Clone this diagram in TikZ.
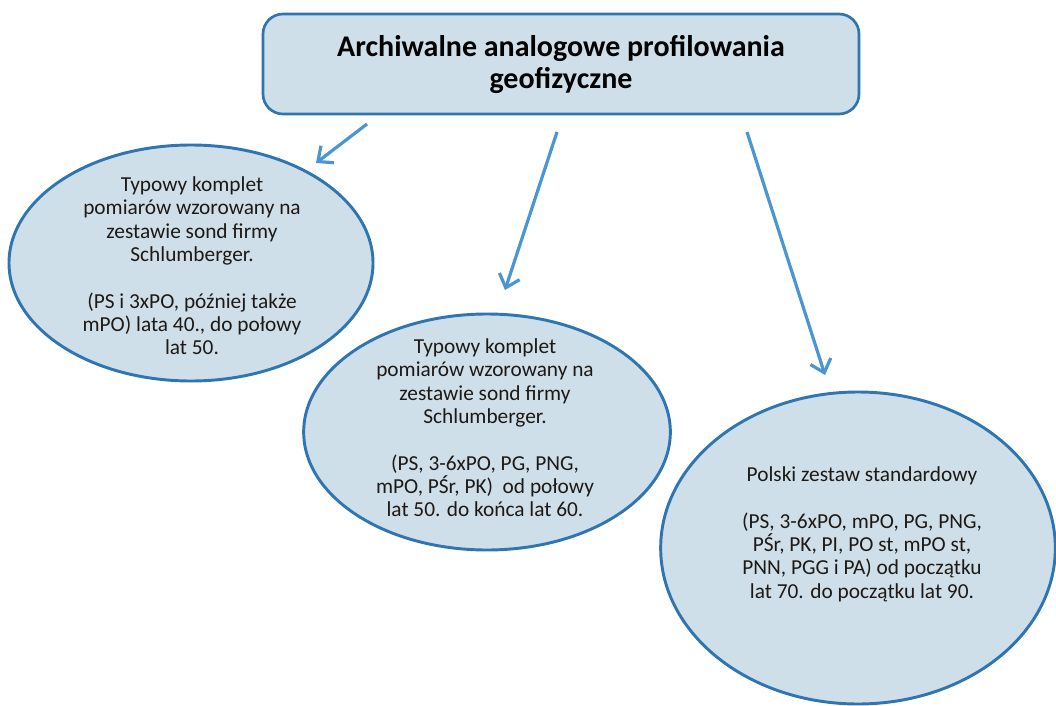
\documentclass[tikz,border=0pt]{standalone}
\usepackage{fontspec}
\setmainfont{Carlito}
\usetikzlibrary{shapes.geometric,arrows.meta}

\definecolor{bubblefill}{RGB}{207,223,234}
\definecolor{bubbleline}{RGB}{46,117,178}
\definecolor{arrowblue}{RGB}{74,150,210}
\definecolor{textdark}{RGB}{30,25,20}

\tikzset{
  titlebox/.style={rectangle, rounded corners=15pt, draw=bubbleline, fill=bubblefill,
    line width=2pt, minimum width=447pt, minimum height=75pt, align=center,
    font=\fontsize{22.5}{24}\selectfont\bfseries},
  bubble/.style={ellipse, draw=bubbleline, fill=bubblefill, line width=2.2pt, inner sep=0pt},
  bubbletext/.style={align=center, text=textdark, font=\fontsize{16}{17.5}\selectfont},
  link/.style={draw=arrowblue, line width=2.4pt, -{Straight Barb[length=9pt,width=16pt]}}
}

\begin{document}
\begin{tikzpicture}[x=0.75pt,y=-0.75pt]

  % page frame
  \useasboundingbox (0,0) rectangle (1056,706);

  % title box
  \node[titlebox] (title) at (561,64) {Archiwalne analogowe profilowania\\geofizyczne};

  % the three sets of logs
  \node[bubble, minimum width=273pt, minimum height=177pt] (e1) at (191,263) {};
  \node[bubble, minimum width=275pt, minimum height=177pt] (e2) at (487,432) {};
  \node[bubble, minimum width=296pt, minimum height=234pt] (e3) at (858,548) {};

  % texts
  \node[bubbletext] (t1) at (192,266) {Typowy komplet\\pomiarów wzorowany na\\zestawie sond firmy\\Schlumberger.\\[17.5pt]
    (PS i 3xPO, później także\\mPO) lata 40., do połowy\\lat 50.};
  \node[bubbletext] (t2) at (485,428) {Typowy komplet\\pomiarów wzorowany na\\zestawie sond firmy\\Schlumberger.\\[17.5pt]
    (PS, 3-6xPO, PG, PNG,\\mPO, PŚr, PK)\ \ od połowy\\lat 50. do końca lat 60.};
  \node[bubbletext] (t3) at (862,534) {Polski zestaw standardowy\\[17.5pt]
    (PS, 3-6xPO, mPO, PG, PNG,\\PŚr, PK, PI, PO st, mPO st,\\PNN, PGG i PA) od początku\\lat 70. do początku lat 90.};

  % arrows
  \coordinate (s1) at (367,124);
  \coordinate (s2) at (557,132);
  \coordinate (s3) at (747,132);
  \coordinate (p1) at (316,163);
  \coordinate (p2) at (505,290);
  \coordinate (p3) at (825,375);
  \draw[link] (s1) -- (p1);
  \draw[link] (s2) -- (p2);
  \draw[link] (s3) -- (p3);

\end{tikzpicture}
\end{document}
